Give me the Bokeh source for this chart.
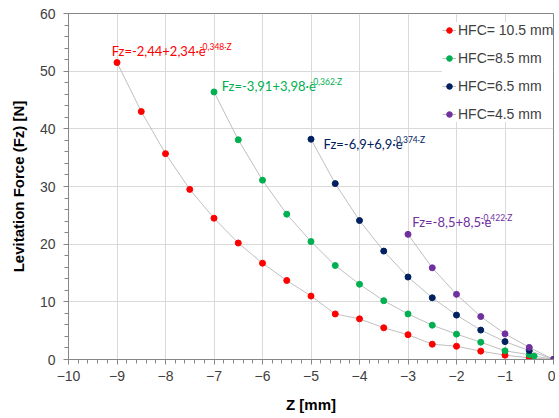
from bokeh.plotting import figure
from bokeh.models import Legend, LegendItem, Label, FixedTicker, ColumnDataSource
from bokeh.embed import file_html
from bokeh.resources import INLINE

# Data
z_105 = [-9, -8.5, -8, -7.5, -7, -6.5, -6, -5.5, -5, -4.5, -4, -3.5, -3, -2.5, -2, -1.5, -1, -0.5, 0]
f_105 = [51.5, 43.0, 35.7, 29.5, 24.5, 20.2, 16.7, 13.7, 11.0, 7.9, 7.05, 5.5, 4.3, 2.65, 2.3, 1.45, 0.75, 0.3, 0]

z_85 = [-7, -6.5, -6, -5.5, -5, -4.5, -4, -3.5, -3, -2.5, -2, -1.5, -1, -0.5, -0.4, 0]
f_85 = [46.4, 38.1, 31.1, 25.2, 20.45, 16.3, 13.05, 10.2, 7.9, 5.95, 4.4, 3.0, 1.5, 0.85, 0.6, 0]

z_65 = [-5, -4.5, -4, -3.5, -3, -2.5, -2, -1.5, -1, -0.5, 0]
f_65 = [38.2, 30.5, 24.1, 18.8, 14.3, 10.7, 7.7, 5.1, 3.1, 1.55, 0]

z_45 = [-3, -2.5, -2, -1.5, -1, -0.5, 0]
f_45 = [21.7, 15.9, 11.3, 7.45, 4.45, 2.1, 0]

series_names = ["HFC= 10.5 mm", "HFC=8.5 mm", "HFC=6.5 mm", "HFC=4.5 mm"]
series_colors = ["#FF0000", "#00B050", "#002060", "#7030A0"]
eq_main = ["Fz=-2,44+2,34·e", "Fz=-3,91+3,98·e", "Fz=-6,9+6,9·e", "Fz=-8,5+8,5·e"]
eq_sup = ["-0,348·Z", "-0,362·Z", "-0,374·Z", "-0,422·Z"]
eq_x = [-9.11, -6.84, -4.74, -2.91]
eq_y = [53.5, 47.5, 37.3, 23.85]
sup_x = [-7.30, -5.02, -3.31, -1.51]

x_ticks = list(range(-10, 1))
y_ticks = [0, 10, 20, 30, 40, 50, 60]

p = figure(width=555, height=416, x_range=(-10, 0), y_range=(0, 60),
           output_backend="svg", toolbar_location=None,
           min_border_left=68, min_border_right=2, min_border_top=13, min_border_bottom=57)

p.outline_line_color = "#868686"
p.outline_line_width = 1
p.background_fill_color = "white"
p.border_fill_color = "white"

for ax in (p.xaxis[0], p.yaxis[0]):
    ax.axis_line_color = "#868686"
    ax.major_tick_line_color = "#868686"
    ax.minor_tick_line_color = "#868686"
    ax.major_tick_in = 0
    ax.major_tick_out = 5
    ax.minor_tick_in = 0
    ax.minor_tick_out = 4
    ax.major_label_text_font = "Liberation Sans"
    ax.major_label_text_font_size = "14px"
    ax.major_label_text_color = "#404040"
    ax.axis_label_text_font = "Liberation Sans"
    ax.axis_label_text_font_style = "bold"
    ax.axis_label_text_font_size = "15px"
    ax.axis_label_text_color = "#000000"

p.xaxis.ticker = FixedTicker(ticks=x_ticks, minor_ticks=[-10 + i * 0.2 for i in range(51)])
p.yaxis.ticker = FixedTicker(ticks=y_ticks, minor_ticks=[i * 2 for i in range(31)])
p.xaxis.axis_label = "Z [mm]"
p.yaxis.axis_label = "Levitation Force (Fz) [N]"
p.xaxis.axis_label_standoff = 12
p.yaxis.axis_label_standoff = 10
p.xaxis.major_label_standoff = 6
p.yaxis.major_label_standoff = 8

p.xgrid.grid_line_color = "#D9D9D9"
p.ygrid.grid_line_color = "#D9D9D9"

items = []
data = [(z_105, f_105), (z_85, f_85), (z_65, f_65), (z_45, f_45)]
for (zs, fs), name, col in zip(data, series_names, series_colors):
    src = ColumnDataSource(dict(z=zs, f=fs))
    ln = p.line("z", "f", source=src, line_color="#BFBFBF", line_width=1)
    sc = p.scatter("z", "f", source=src, size=6, fill_color=col, line_color=col)
    items.append(LegendItem(label=name, renderers=[ln, sc]))

for i in range(4):
    p.add_layout(Label(x=eq_x[i], y=eq_y[i], text=eq_main[i], text_color=series_colors[i],
                       text_font="Lato", text_font_size="13px", text_baseline="alphabetic"))
    p.add_layout(Label(x=sup_x[i], y=eq_y[i], y_offset=4, text=eq_sup[i], text_color=series_colors[i],
                       text_font="Lato", text_font_size="8.5px", text_baseline="alphabetic"))

legend = Legend(items=items, location=(374, 237))
legend.label_text_font = "Liberation Sans"
legend.label_text_font_size = "14px"
legend.label_text_color = "#404040"
legend.border_line_color = None
legend.background_fill_alpha = 1.0
legend.glyph_width = 14
legend.glyph_height = 14
legend.label_height = 14
legend.label_standoff = 2
legend.spacing = 12
legend.padding = 10
legend.margin = 0
p.add_layout(legend)

open("out.html", "w").write(file_html(p, INLINE))
